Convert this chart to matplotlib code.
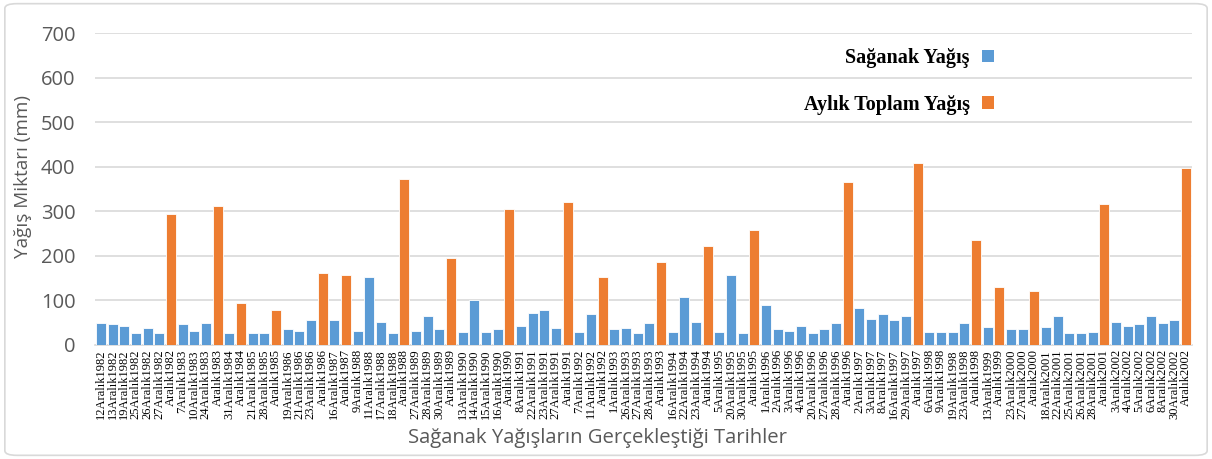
import matplotlib
matplotlib.use("Agg")
import matplotlib.pyplot as plt
from matplotlib.patches import Patch, FancyBboxPatch

# Dates of heavy-rain events; entries without a day are the December monthly totals
labels = [
    "12Aralık1982", "13Aralık1982", "19Aralık1982", "25Aralık1982", "26Aralık1982", "27Aralık1982", "Aralık1982",
    "7Aralık1983", "10Aralık1983", "24Aralık1983", "Aralık1983",
    "31Aralık1984", "Aralık1984",
    "21Aralık1985", "28Aralık1985", "Aralık1985",
    "19Aralık1986", "21Aralık1986", "23Aralık1986", "Aralık1986",
    "16Aralık1987", "Aralık1987",
    "9Aralık1988", "11Aralık1988", "17Aralık1988", "18Aralık1988", "Aralık1988",
    "27Aralık1989", "28Aralık1989", "30Aralık1989", "Aralık1989",
    "13Aralık1990", "14Aralık1990", "15Aralık1990", "16Aralık1990", "Aralık1990",
    "8Aralık1991", "22Aralık1991", "23Aralık1991", "27Aralık1991", "Aralık1991",
    "7Aralık1992", "11Aralık1992", "Aralık1992",
    "1Aralık1993", "26Aralık1993", "27Aralık1993", "28Aralık1993", "Aralık1993",
    "16Aralık1994", "22Aralık1994", "23Aralık1994", "Aralık1994",
    "5Aralık1995", "20Aralık1995", "30Aralık1995", "Aralık1995",
    "1Aralık1996", "2Aralık1996", "3Aralık1996", "4Aralık1996", "20Aralık1996", "27Aralık1996", "28Aralık1996", "Aralık1996",
    "2Aralık1997", "3Aralık1997", "8Aralık1997", "16Aralık1997", "29Aralık1997", "Aralık1997",
    "6Aralık1998", "9Aralık1998", "19Aralık1998", "23Aralık1998", "Aralık1998",
    "13Aralık1999", "Aralık1999",
    "23Aralık2000", "27Aralık2000", "Aralık2000",
    "18Aralık2001", "22Aralık2001", "25Aralık2001", "26Aralık2001", "28Aralık2001", "Aralık2001",
    "3Aralık2002", "4Aralık2002", "5Aralık2002", "6Aralık2002", "8Aralık2002", "30Aralık2002", "Aralık2002",
]

# Precipitation amounts (mm)
values = [
    49, 46, 43, 26, 37, 26, 294,
    46, 32, 49, 311,
    26, 95,
    26, 26, 78,
    35, 32, 55, 161,
    55, 156,
    32, 153, 52, 26, 372,
    32, 64, 35, 196,
    29, 100, 29, 35, 305,
    43, 72, 78, 37, 320,
    29, 69, 153,
    35, 37, 26, 49, 187,
    29, 107, 52, 222,
    29, 156, 26, 259,
    89, 35, 32, 43, 26, 35, 49, 366,
    84, 58, 69, 55, 64, 409,
    29, 29, 29, 49, 236,
    40, 130,
    35, 35, 121,
    40, 64, 26, 26, 29, 317,
    52, 43, 46, 64, 49, 55, 398,
]

series_names = ["Sağanak Yağış", "Aylık Toplam Yağış"]
series_colors = ["#5B9BD5", "#ED7D31"]
y_ticks = [0, 100, 200, 300, 400, 500, 600, 700]

is_monthly = [lab.startswith("Aralık") for lab in labels]
bar_colors = [series_colors[1] if m else series_colors[0] for m in is_monthly]

fig = plt.figure(figsize=(12.12, 4.59), dpi=100)
ax = fig.add_axes([0.0784, 0.2484, 0.905, 0.6796])

x = list(range(len(values)))
ax.bar(x, values, width=0.86, color=bar_colors, edgecolor="white", linewidth=0.6, zorder=3)

ax.set_xlim(-0.5, len(values) - 0.5)
ax.set_ylim(0, 700)
ax.set_yticks(y_ticks)
ax.set_yticklabels([str(v) for v in y_ticks], fontsize=14.5, color="#595959", family="Open Sans")
ax.yaxis.grid(True, color="#D9D9D9", linewidth=1.2, zorder=0)
ax.set_axisbelow(True)

ax.set_xticks(x)
ax.set_xticklabels(labels, rotation=90, fontsize=9, family="Liberation Serif", color="black")
ax.tick_params(axis="both", length=0)
ax.tick_params(axis="x", pad=3)
ax.tick_params(axis="y", pad=14)

for side in ["top", "right", "left"]:
    ax.spines[side].set_visible(False)
ax.spines["bottom"].set_color("#D9D9D9")
ax.spines["bottom"].set_linewidth(1.2)

ax.set_ylabel("Yağış Miktarı (mm)", fontsize=13.6, color="#595959", family="Open Sans")
ax.yaxis.set_label_coords(-0.057, 0.54)
fig.text(598 / 1212, 1 - 438 / 459, "Sağanak Yağışların Gerçekleştiği Tarihler",
         fontsize=14.6, color="#595959", family="Open Sans", ha="center", va="center")

handles = [Patch(facecolor=c, edgecolor="none") for c in series_colors]
leg = fig.legend(handles, series_names, loc="upper right",
                 bbox_to_anchor=(994 / 1212, 1 - 48 / 459),
                 markerfirst=False, frameon=False, borderpad=0, borderaxespad=0,
                 handlelength=0.6, handleheight=0.6, handletextpad=0.6,
                 labelspacing=1.32,
                 prop={"family": "Liberation Serif", "weight": "bold", "size": 14.5})

# light rounded border around the chart area
fig.patches.append(FancyBboxPatch((0.004, 0.008), 0.992, 0.984,
                                  boxstyle="round,pad=0,rounding_size=0.01",
                                  transform=fig.transFigure, facecolor="none",
                                  edgecolor="#D9D9D9", linewidth=1.2))

fig.savefig("out.png", dpi=100)
